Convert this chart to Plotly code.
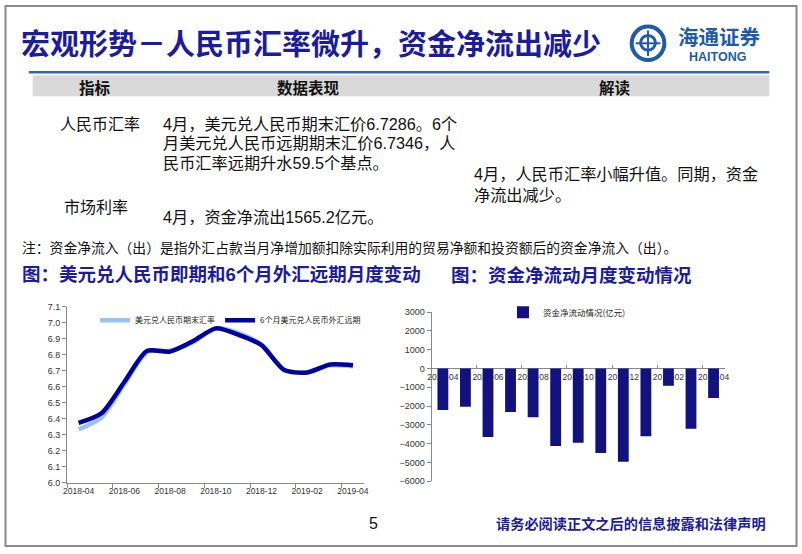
import plotly.graph_objects as go

W, H = 802, 554

months = ["2018-04", "2018-05", "2018-06", "2018-07", "2018-08", "2018-09", "2018-10",
          "2018-11", "2018-12", "2019-01", "2019-02", "2019-03", "2019-04"]
spot_rate = [6.334, 6.408, 6.617, 6.817, 6.825, 6.879, 6.965, 6.936, 6.863, 6.703, 6.690, 6.734, 6.729]
fwd_rate = [6.375, 6.435, 6.630, 6.825, 6.820, 6.885, 6.965, 6.925, 6.860, 6.705, 6.690, 6.740, 6.735]
net_flow = [-2212, -2038, -3641, -2317, -2596, -4129, -3955, -4495, -4965, -3606, -923, -3206, -1565.2]
tick_months = months[::2]
left_yticks = [6.0, 6.1, 6.2, 6.3, 6.4, 6.5, 6.6, 6.7, 6.8, 6.9, 7.0, 7.1]
right_yticks = [3000, 2000, 1000, 0, -1000, -2000, -3000, -4000, -5000, -6000]

NAVY = "#1c1c9c"
CJK = "Noto Sans CJK SC"
MIXED = "Arial, Liberation Sans, Noto Sans CJK SC"


def px(x):
    return x / W


def py(y):
    return 1 - y / H


fig = go.Figure()

fig.add_trace(go.Scatter(x=months, y=spot_rate, mode="lines", name="美元兑人民币期末汇率",
                         line=dict(color="#9cc3ef", width=4.5, shape="spline", smoothing=0.7),
                         xaxis="x", yaxis="y", legend="legend"))
fig.add_trace(go.Scatter(x=months, y=fwd_rate, mode="lines", name="6个月美元兑人民币外汇远期",
                         line=dict(color="#00009c", width=4.5, shape="spline", smoothing=0.7),
                         xaxis="x", yaxis="y", legend="legend"))
fig.add_trace(go.Bar(x=months, y=net_flow, name="资金净流动情况(亿元)",
                     marker=dict(color="#12127e", line=dict(width=0)), width=0.48,
                     xaxis="x2", yaxis="y2", legend="legend2"))

x_font = dict(family="Arial, Liberation Sans", size=8.5, color="#333333")
y_font = dict(family="Arial, Liberation Sans", size=9, color="#333333")

# right chart zero-line position from its range
r_lo, r_hi = -6000, 3000
d2 = [py(485.0), py(312.7)]
zero_pos = d2[0] + (0 - r_lo) / (r_hi - r_lo) * (d2[1] - d2[0])

fig.update_layout(
    width=W, height=H, autosize=False,
    margin=dict(l=0, r=0, t=0, b=0),
    paper_bgcolor="white", plot_bgcolor="white",
    showlegend=True,
    xaxis=dict(domain=[px(63.8), px(364)], type="category", range=[-0.5, 12.5],
               tickvals=tick_months, ticktext=tick_months, tickson="boundaries",
               tickangle=0, ticks="outside", ticklen=4, tickcolor="#888888",
               showline=True, linecolor="#888888", linewidth=1, showgrid=False,
               tickfont=x_font, anchor="y"),
    yaxis=dict(domain=[py(486.7), py(307.3)], range=[6.0, 7.1], tickvals=left_yticks,
               tickformat=".1f", ticks="outside", ticklen=4, tickcolor="#888888",
               showline=True, linecolor="#888888", linewidth=1, showgrid=False,
               zeroline=False, tickfont=y_font, anchor="x"),
    xaxis2=dict(domain=[px(431.9), px(728.1)], type="category", range=[-0.5, 12.5],
                tickvals=tick_months, ticktext=tick_months, tickson="boundaries",
                tickangle=0, ticks="inside", ticklen=3, tickcolor="#888888",
                showline=True, linecolor="#888888", linewidth=1, showgrid=False,
                tickfont=x_font, anchor="free", position=zero_pos,
                layer="below traces"),
    yaxis2=dict(domain=d2, range=[r_lo, r_hi], tickvals=right_yticks,
                ticks="outside", ticklen=4, tickcolor="#888888",
                showline=True, linecolor="#888888", linewidth=1, showgrid=False,
                zeroline=False, tickfont=y_font, anchor="x2"),
    legend=dict(orientation="h", x=px(92), y=py(321), xanchor="left", yanchor="middle",
                bgcolor="rgba(0,0,0,0)", font=dict(family=CJK, size=8, color="#222222"),
                itemwidth=30, tracegroupgap=0),
    legend2=dict(orientation="h", x=px(504), y=py(313), xanchor="left", yanchor="middle",
                 bgcolor="rgba(0,0,0,0)", font=dict(family=CJK, size=8.5, color="#222222")),
)

shapes = []
# page frame
shapes.append(dict(type="rect", xref="paper", yref="paper", x0=px(1.5), x1=px(800.5),
                   y0=py(551), y1=py(1), line=dict(color="#8a8a8a", width=2)))
# blue rule under title
shapes.append(dict(type="line", xref="paper", yref="paper", x0=px(25), x1=px(773),
                   y0=py(68.5), y1=py(68.5), line=dict(color="#2f6aad", width=2.5)))
# grey header bar
shapes.append(dict(type="rect", xref="paper", yref="paper", x0=px(29), x1=px(773),
                   y0=py(93), y1=py(71.5), fillcolor="#d9d9d9", line=dict(width=0),
                   layer="below"))
# logo emblem
shapes.append(dict(type="circle", xref="paper", yref="paper", x0=px(634), x1=px(667),
                   y0=py(56), y1=py(22), line=dict(color="#1f5ba8", width=4)))
shapes.append(dict(type="circle", xref="paper", yref="paper", x0=px(643), x1=px(658),
                   y0=py(46), y1=py(31), line=dict(color="#1f5ba8", width=3)))
shapes.append(dict(type="line", xref="paper", yref="paper", x0=px(650.5), x1=px(650.5),
                   y0=py(52), y1=py(26), line=dict(color="#1f5ba8", width=2)))
shapes.append(dict(type="line", xref="paper", yref="paper", x0=px(638), x1=px(663),
                   y0=py(39), y1=py(39), line=dict(color="#1f5ba8", width=2)))
fig.update_layout(shapes=shapes)


def ann(text, x, y, size, color="#111111", bold=False, xanchor="left", family=CJK, h=None):
    if bold:
        text = "<b>" + text + "</b>"
    kw = {}
    if h is not None:
        kw["height"] = h
    fig.add_annotation(text=text, x=px(x), y=py(y), xref="paper", yref="paper",
                       xanchor=xanchor, yanchor="middle", showarrow=False, align="left",
                       borderpad=0, font=dict(family=family, size=size, color=color), **kw)


ann("宏观形势－人民币汇率微升，资金净流出减少", 16, 38, 29, NAVY, bold=True)
ann("海通证券", 680, 32, 20.5, "#1f5ba8", bold=True, h=22)
ann("HAITONG", 721, 52, 12.5, "#1f5ba8", bold=True, xanchor="center",
    family="Arial, Liberation Sans", h=13)

ann("指标", 92, 83, 15.5, "#111111", bold=True, xanchor="center")
ann("数据表现", 308, 83, 15.5, "#111111", bold=True, xanchor="center")
ann("解读", 617, 83, 15.5, "#111111", bold=True, xanchor="center")

ann("人民币汇率", 56, 121, 16, family=MIXED, h=18)
ann("4月，美元兑人民币期末汇价6.7286。6个", 160, 121, 16.2, family=MIXED, h=18)
ann("月美元兑人民币远期期末汇价6.7346，人", 160, 141, 16.2, family=MIXED, h=18)
ann("民币汇率远期升水59.5个基点。", 160, 161, 16.2, family=MIXED, h=18)
ann("4月，人民币汇率小幅升值。同期，资金", 474, 172, 16.2, family=MIXED, h=18)
ann("净流出减少。", 474, 193, 16.2, family=MIXED, h=18)
ann("市场利率", 60, 206, 16, family=MIXED, h=18)
ann("4月，资金净流出1565.2亿元。", 160, 216, 16.2, family=MIXED, h=18)

ann("注：资金净流入（出）是指外汇占款当月净增加额扣除实际利用的贸易净额和投资额后的资金净流入（出）。",
    17, 246, 13.8)

ann("图：美元兑人民币即期和6个月外汇远期月度变动", 17, 274, 18.5, NAVY, bold=True, family=MIXED)
ann("图：资金净流动月度变动情况", 450, 274, 18.5, NAVY, bold=True)

ann("5", 373, 528, 16, "#111111", xanchor="center", family="Arial, Liberation Sans")
ann("请务必阅读正文之后的信息披露和法律声明", 496, 528, 14.2, NAVY, bold=True)

fig.write_html("out.html", config={"displayModeBar": False},
               post_script="document.body.style.margin='0px';")
